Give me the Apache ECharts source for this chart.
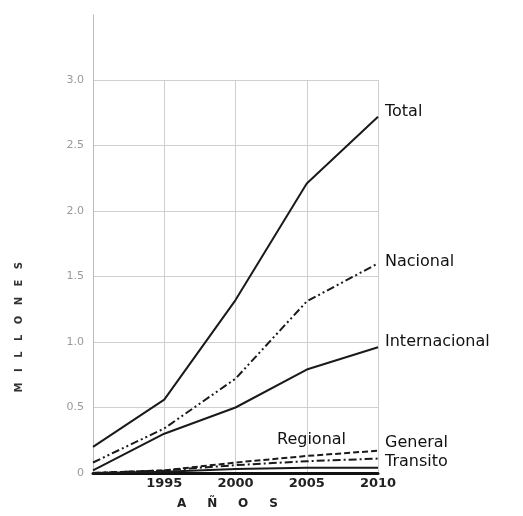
<!DOCTYPE html>
<html><head><meta charset="utf-8">
<script src="https://cdn.jsdelivr.net/npm/echarts@6/dist/echarts.min.js"></script>
<style>html,body{margin:0;padding:0;background:#fff}#c{width:523px;height:516px}</style>
</head><body><div id="c"></div>
<script>
const years = [1990, 1995, 2000, 2005, 2010];
const total = [0.20, 0.56, 1.32, 2.21, 2.72];
const nacional = [0.08, 0.34, 0.72, 1.31, 1.60];
const internacional = [0.02, 0.30, 0.50, 0.79, 0.96];
const regional = [0.00, 0.02, 0.08, 0.13, 0.17];
const general = [0.00, 0.02, 0.06, 0.09, 0.11];
const transito = [0.00, 0.01, 0.03, 0.04, 0.04];
const yTicks = [0, 0.5, 1.0, 1.5, 2.0, 2.5, 3.0];
const xTicks = [1995, 2000, 2005, 2010];
const yName = 'M   I   L   L   O   N   E   S';
const xName = 'A     Ñ     O     S';

const font = '"DejaVu Sans", sans-serif';
function pts(arr){ return years.map((y,i)=>[y, arr[i]]); }
function mk(name, arr, type, width, labelOffset){
  return {
    name, type:'line', data: pts(arr), symbol:'none', xAxisIndex:0, yAxisIndex:0,
    lineStyle:{color:'#1a1a1a', width:width, type:type},
    endLabel:{show:true, formatter:name, color:'#111', fontFamily:font, fontSize:16, offset:labelOffset||[0,0], distance:7},
    animation:false, z:3
  };
}
const chart = echarts.init(document.getElementById('c'), null, {renderer:'canvas'});
chart.setOption({
  backgroundColor:'#ffffff',
  animation:false,
  grid:[
    {left:93, right:145, top:80, bottom:43, containLabel:false},
    {left:93, right:145, top:15, bottom:43, containLabel:false}
  ],
  graphic:[
    {type:'text', left:14, top:262, rotation:Math.PI/2, originX:0, originY:0,
     style:{text:yName, fill:'#333', font:'bold 10px "DejaVu Sans", sans-serif'}},
    {type:'text', left:177, top:498,
     style:{text:xName, fill:'#222', font:'bold 12px "DejaVu Sans", sans-serif'}}
  ],
  xAxis:[
    {type:'value', gridIndex:0, min:1990, max:2010, interval:5,
     axisLine:{show:true, lineStyle:{color:'#111', width:3}},
     axisTick:{show:false},
     splitLine:{show:true, lineStyle:{color:'#cfcfcf', width:1}},
     axisLabel:{color:'#222', fontFamily:font, fontSize:13, fontWeight:'bold', margin:4,
       formatter:v=> xTicks.indexOf(v)>=0 ? String(v) : ''}
    },
    {type:'value', gridIndex:1, min:1990, max:2010, show:false}
  ],
  yAxis:[
    {type:'value', gridIndex:0, min:0, max:3.0, interval:0.5,
     axisLine:{show:false}, axisTick:{show:false},
     splitLine:{show:true, lineStyle:{color:'#cfcfcf', width:1}},
     axisLabel:{color:'#999', fontFamily:font, fontSize:11, margin:9,
       formatter:v=> yTicks.indexOf(v)>=0 ? (v===0?'0':v.toFixed(1)) : ''}
    },
    {type:'value', gridIndex:1, min:0, max:3.5,
     axisLine:{show:true, lineStyle:{color:'#bbb', width:1}},
     axisTick:{show:false}, axisLabel:{show:false}, splitLine:{show:false}}
  ],
  series:[
    mk('Total', total, 'solid', 2, [0,-5]),
    mk('Nacional', nacional, [8,3,2,3,2,3], 2, [0,-2]),
    mk('Internacional', internacional, 'solid', 2, [0,-5]),
    mk('Regional', regional, [6,3], 2, [-108,-11]),
    mk('General', general, [8,3,2,3], 2, [0,-16]),
    mk('Transito', transito, 'solid', 2, [0,-6])
  ]
});
</script></body></html>
